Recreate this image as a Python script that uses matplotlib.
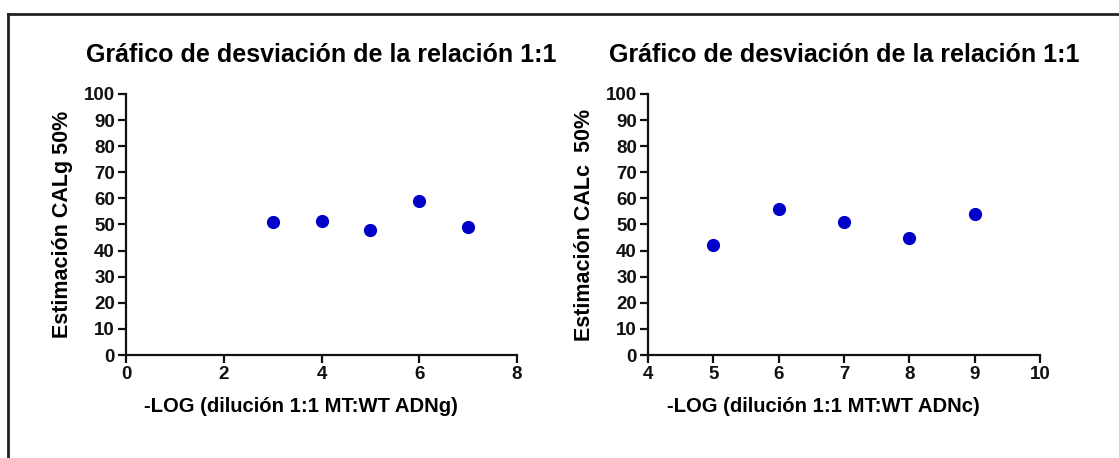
import matplotlib
matplotlib.use("Agg")
import matplotlib.pyplot as plt
from matplotlib.lines import Line2D

plt.rcParams['font.family'] = ['Liberation Sans', 'DejaVu Sans']
plt.rcParams['font.weight'] = 'bold'

# datos
x_adng = [3, 4, 5, 6, 7]
y_adng = [51, 51.5, 48, 59, 49]
x_adnc = [5, 6, 7, 8, 9]
y_adnc = [42, 56, 51, 45, 54]

titulo = "Gráfico de desviación de la relación 1:1"
xlabel_g = "-LOG (dilución 1:1 MT:WT ADNg)"
xlabel_c = "-LOG (dilución 1:1 MT:WT ADNc)"
ylabel_g = "Estimación CALg 50%"
ylabel_c = "Estimación CALc  50%"

fig = plt.figure(figsize=(11.19, 4.58), dpi=100)

# marco exterior
fig.add_artist(Line2D([8 / 1119, 8 / 1119], [0, 1 - 14 / 458], transform=fig.transFigure, color='#222222', lw=2))
fig.add_artist(Line2D([8 / 1119, 1], [1 - 14 / 458, 1 - 14 / 458], transform=fig.transFigure, color='#222222', lw=2))

ax1 = fig.add_axes([126 / 1119, 1 - 355 / 458, 391 / 1119, 261 / 458])
ax2 = fig.add_axes([648 / 1119, 1 - 355 / 458, 392 / 1119, 261 / 458])


def dibujar(ax, x, y, xlim, xticks, xlabel, ylabel):
    ax.plot(x, y, 'o', color='#0000c8', markersize=8.5, clip_on=False)
    ax.set_xlim(*xlim)
    ax.set_ylim(0, 100)
    ax.set_xticks(xticks)
    ax.set_yticks(range(0, 101, 10))
    for s in ['top', 'right']:
        ax.spines[s].set_visible(False)
    for s in ['left', 'bottom']:
        ax.spines[s].set_linewidth(1.6)
        ax.spines[s].set_color('#111111')
    ax.tick_params(direction='out', length=6, width=1.6, labelsize=13.5, pad=2, colors='#111111')
    ax.set_title(titulo, fontsize=18, fontweight='bold', pad=23)
    ax.set_xlabel(xlabel, fontsize=14.6, fontweight='bold')
    # la etiqueta del eje x está algo desplazada a la izquierda en el original
    ax.xaxis.set_label_coords(0.448, -0.16)
    ax.set_ylabel(ylabel, fontsize=15.5, fontweight='bold', labelpad=8)


dibujar(ax1, x_adng, y_adng, (0, 8), [0, 2, 4, 6, 8], xlabel_g, ylabel_g)
dibujar(ax2, x_adnc, y_adnc, (4, 10), [4, 5, 6, 7, 8, 9, 10], xlabel_c, ylabel_c)

fig.savefig("out.png", dpi=100)
